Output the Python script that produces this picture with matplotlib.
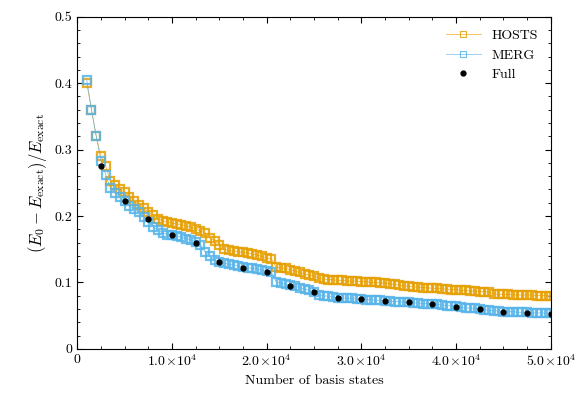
import numpy as np
import matplotlib
matplotlib.use("Agg")
import matplotlib.pyplot as plt
from matplotlib.ticker import FuncFormatter

plt.rcParams['font.family'] = 'serif'
plt.rcParams['font.serif'] = ['cmr10', 'DejaVu Serif']
plt.rcParams['mathtext.fontset'] = 'cm'
plt.rcParams['axes.unicode_minus'] = False

hosts = [.40,.36,.32,.29,.275,.252,.246,.241,.236,.229,.222,.217,.212,.206,.201,.196,.193,.191,.189,.188,
         .187,.185,.183,.181,.177,.175,.167,.163,.156,.150,.148,.147,.146,.145,.144,.143,.141,.139,.137,.135,
         .123,.122,.121,.119,.117,.115,.113,.111,.110,.106,.105,.104,.104,.103,.103,.102,.102,.102,.101,.101,
         .100,.100,.099,.099,.098,.097,.096,.095,.094,.093,.093,.092,.092,.091,.091,.090,.090,.089,.089,.088,
         .088,.087,.087,.086,.086,.085,.083,.082,.082,.082,.081,.081,.081,.081,.081,.080,.080,.080,.080]
merg = [.405,.36,.32,.283,.262,.242,.235,.229,.222,.215,.210,.206,.199,.191,.184,.179,.175,.172,.171,.170,
        .168,.166,.164,.161,.156,.146,.139,.134,.131,.129,.127,.126,.125,.123,.122,.121,.120,.118,.117,.115,
        .101,.099,.097,.096,.094,.092,.090,.088,.085,.081,.080,.079,.078,.077,.077,.076,.076,.075,.075,.074,
        .074,.073,.073,.072,.072,.071,.071,.070,.070,.069,.069,.068,.068,.067,.067,.066,.065,.065,.064,.063,
        .062,.061,.061,.060,.059,.058,.057,.057,.056,.056,.056,.055,.055,.055,.054,.054,.054,.054,.054]
hosts_x = np.arange(1000, 1000 + 500 * len(hosts), 500)
merg_x = np.arange(1000, 1000 + 500 * len(merg), 500)

full_x = [2500,5000,7500,10000,12500,15000,17500,20000,22500,25000,27500,30000,32500,35000,37500,40000,42500,45000,47500,50000]
full_y = [0.275,0.222,0.195,0.172,0.160,0.130,0.122,0.115,0.095,0.085,0.077,0.075,0.072,0.070,0.067,0.063,0.060,0.055,0.054,0.053]

fig = plt.figure(figsize=(5.81, 4.07), dpi=100)
ax = fig.add_axes([0.133, 0.143, 0.815, 0.816])
ax.plot(hosts_x, hosts, color='#E69F00', lw=0.5, marker='s', mfc='none', ms=5.5, mew=1.6, label='HOSTS', alpha=0.85)
ax.plot(merg_x, merg, color='#56B4E9', lw=0.5, marker='s', mfc='none', ms=5.5, mew=1.6, label='MERG', alpha=0.85)
ax.plot(full_x, full_y, 'o', color='black', ms=3.5, label='Full', zorder=5)

ax.set_xlim(0, 50000)
ax.set_ylim(0, 0.5)
ax.set_xticks([0, 10000, 20000, 30000, 40000, 50000])
def fmt(v, p):
    if v == 0:
        return '0'
    return r'$%.1f\!\times\!10^{4}$' % (v / 1e4)
ax.xaxis.set_major_formatter(FuncFormatter(fmt))
ax.set_xticks(np.arange(0, 50001, 2500), minor=True)
ax.set_yticks([0, 0.1, 0.2, 0.3, 0.4, 0.5])
ax.set_yticklabels(['0', '0.1', '0.2', '0.3', '0.4', '0.5'])
ax.set_yticks(np.arange(0, 0.5001, 0.02), minor=True)
ax.tick_params(direction='in', which='both', top=True, right=True, labelsize=10)
ax.tick_params(which='major', length=4)
ax.tick_params(which='minor', length=2)
ax.set_xlabel('Number of basis states', fontsize=10)
ax.set_ylabel(r'$(E_0 - E_{\mathrm{exact}})/E_{\mathrm{exact}}$', fontsize=12)
leg = ax.legend(loc='upper right', frameon=False, fontsize=10, handlelength=2.5)
for h in leg.legend_handles[:2]:
    h.set_markeredgewidth(0.8)
    h.set_markersize(4.5)
fig.savefig('out.png', dpi=100)
